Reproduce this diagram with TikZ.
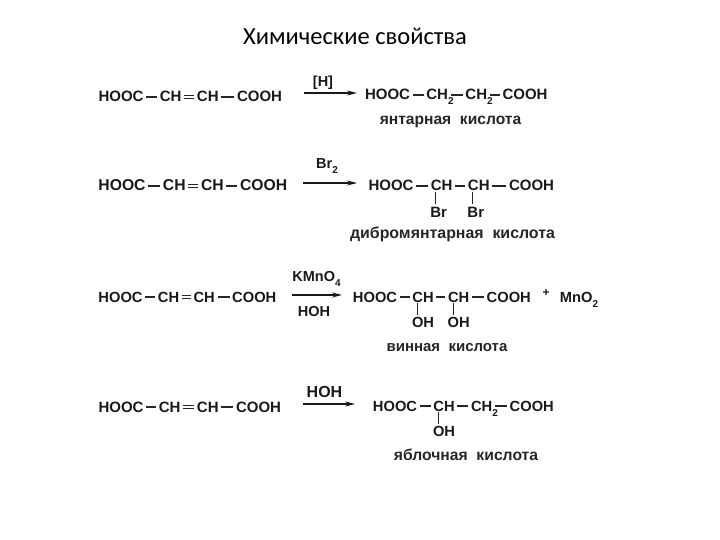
\documentclass[tikz,border=0pt]{standalone}
\usepackage{fontspec}
\setmainfont{Liberation Sans}
\newfontfamily\titlefont{Carlito}
\usetikzlibrary{positioning,arrows.meta}
\newcommand{\lowidx}[1]{\raisebox{-5pt}{\fontsize{10}{10}\selectfont #1}}
\newcommand{\hangidx}[1]{\rlap{\lowidx{#1}}}
\begin{document}
\begin{tikzpicture}[x=1pt, y=-1pt,
    chem/.style = {font=\fontsize{#1}{#1}\selectfont\bfseries, text=black!90, inner xsep=2.5pt, inner ysep=1pt, text height=10pt, text depth=0pt},
    chem/.default = 15,
    acid/.style = {font=\fontsize{#1}{16}\selectfont\bfseries, text=black!85, inner sep=0pt},
    acid/.default = 15.6,
    reagent/.style = {font=\fontsize{14.5}{15}\selectfont\bfseries, text=black!90, inner sep=0pt},
    bond/.style = {line width=1.2pt, black!85},
    dbond/.style = {bond, double, double distance=2.4pt, line width=.9pt},
    stem/.style = {bond, line width=1pt},
    rxn/.style = {line width=1.1pt, black!90, -{Stealth[length=10pt, width=5pt]}}]
    \useasboundingbox (0,0) rectangle (720,540);

    \node[font=\titlefont\fontsize{24.5}{28}\selectfont, inner sep=0pt] (title) at (355,36) {Химические свойства};

    % first row
    \node[chem] (hooc1) at (121,97) {HOOC};
    \node[chem] (cha1) [right=11pt of hooc1] {CH};
    \node[chem] (chb1) [right=10pt of cha1] {CH};
    \node[chem] (cooh1) [right=13pt of chb1] {COOH};
    \draw[bond] (hooc1) -- (cha1);
    \draw[dbond] (cha1) -- (chb1);
    \draw[bond] (chb1) -- (cooh1);
    \coordinate (in1) at (304,93);
    \coordinate (out1) at (357,93);
    \draw[rxn] (in1) -- (out1);
    \node[reagent] (top1) at (323,83) {[H]};
    \node[chem] (phooc1) at (387.5,95) {HOOC};
    \node[chem] (pcha1) [right=11pt of phooc1] {CH\hangidx{2}};
    \node[chem] (pchb1) [right=12pt of pcha1] {CH\hangidx{2}};
    \node[chem] (pcooh1) [right=10pt of pchb1] {COOH};
    \draw[bond] (phooc1) -- (pcha1);
    \draw[bond] (pcha1) -- (pchb1);
    \draw[bond] (pchb1) -- (pcooh1);
    \node[acid] (name1) at (450.5,122) {янтарная\ \ кислота};

    % second row
    \node[chem=15.7] (hooc2) at (122,186) {HOOC};
    \node[chem=15.7] (cha2) [right=12pt of hooc2] {CH};
    \node[chem=15.7] (chb2) [right=10pt of cha2] {CH};
    \node[chem=15.7] (cooh2) [right=11pt of chb2] {COOH};
    \draw[bond] (hooc2) -- (cha2);
    \draw[dbond] (cha2) -- (chb2);
    \draw[bond] (chb2) -- (cooh2);
    \coordinate (in2) at (303,183);
    \coordinate (out2) at (357,183);
    \draw[rxn] (in2) -- (out2);
    \node[reagent] (top2) at (327,166) {Br\lowidx{2}};
    \node[chem] (phooc2) at (391,186) {HOOC};
    \node[chem] (pcha2) [right=12pt of phooc2] {CH};
    \node[chem] (pchb2) [right=10pt of pcha2] {CH};
    \node[chem] (pcooh2) [right=14pt of pchb2] {COOH};
    \node[chem] (bra2) [below=14pt of pcha2, xshift=-3pt] {Br};
    \node[chem] (brb2) [below=14pt of pchb2, xshift=-3pt] {Br};
    \draw[bond] (phooc2) -- (pcha2);
    \draw[bond] (pcha2) -- (pchb2);
    \draw[bond] (pchb2) -- (pcooh2);
    \draw[stem, shorten >=2pt] ([xshift=-6pt]pcha2.south) -- ([xshift=-3pt]bra2.north);
    \draw[stem, shorten >=2pt] ([xshift=-6pt]pchb2.south) -- ([xshift=-3pt]brb2.north);
    \node[acid=15.9] (name2) at (452.5,234) {дибромянтарная\ \ кислота};

    % third row
    \node[chem=14.7] (hooc3) at (120.5,297) {HOOC};
    \node[chem=14.7] (cha3) [right=10pt of hooc3] {CH};
    \node[chem=14.7] (chb3) [right=9pt of cha3] {CH};
    \node[chem=14.7] (cooh3) [right=12pt of chb3] {COOH};
    \draw[bond] (hooc3) -- (cha3);
    \draw[dbond] (cha3) -- (chb3);
    \draw[bond] (chb3) -- (cooh3);
    \coordinate (in3) at (292,295);
    \coordinate (out3) at (342,295);
    \draw[rxn] (in3) -- (out3);
    \node[reagent] (top3) at (316.5,279) {KMnO\lowidx{4}};
    \node[reagent] (bot3) at (314,312) {HOH};
    \node[chem=14.7] (phooc3) at (375,297) {HOOC};
    \node[chem=14.7] (pcha3) [right=10pt of phooc3] {CH};
    \node[chem=14.7] (pchb3) [right=9pt of pcha3] {CH};
    \node[chem=14.7] (pcooh3) [right=12pt of pchb3] {COOH};
    \node[chem=14.7] (oha3) [below=13pt of pcha3] {OH};
    \node[chem=14.7] (ohb3) [below=13pt of pchb3] {OH};
    \draw[bond] (phooc3) -- (pcha3);
    \draw[bond] (pcha3) -- (pchb3);
    \draw[bond] (pchb3) -- (pcooh3);
    \draw[stem, shorten >=1pt] ([xshift=-5.5pt]pcha3.south) -- ([xshift=-5.5pt]oha3.north);
    \draw[stem, shorten >=1pt] ([xshift=-5.5pt]pchb3.south) -- ([xshift=-5.5pt]ohb3.north);
    \node[reagent, font=\fontsize{12}{12}\selectfont\bfseries] (plus3) at (546,293) {+};
    \node[chem=14.7] (mno3) at (579,297) {MnO\lowidx{2}};
    \node[acid=15] (name3) at (447,348) {винная\ \ кислота};

    % fourth row
    \node[chem] (hooc4) at (121,407) {HOOC};
    \node[chem] (cha4) [right=10pt of hooc4] {CH};
    \node[chem] (chb4) [right=11pt of cha4] {CH};
    \node[chem] (cooh4) [right=12pt of chb4] {COOH};
    \draw[bond] (hooc4) -- (cha4);
    \draw[dbond] (cha4) -- (chb4);
    \draw[bond] (chb4) -- (cooh4);
    \coordinate (in4) at (303,404);
    \coordinate (out4) at (355,404);
    \draw[rxn] (in4) -- (out4);
    \node[reagent, font=\fontsize{16}{16}\selectfont\bfseries] (top4) at (324.5,392) {HOH};
    \node[chem=14.7] (phooc4) at (395,406) {HOOC};
    \node[chem=14.7] (pcha4) [right=11pt of phooc4] {CH};
    \node[chem=14.7] (pchb4) [right=11pt of pcha4] {CH\hangidx{2}};
    \node[chem=14.7] (pcooh4) [right=12pt of pchb4] {COOH};
    \node[chem=14.7] (oha4) [below=13pt of pcha4] {OH};
    \draw[bond] (phooc4) -- (pcha4);
    \draw[bond] (pcha4) -- (pchb4);
    \draw[bond] (pchb4) -- (pcooh4);
    \draw[stem, shorten >=1pt] ([xshift=-5.5pt]pcha4.south) -- ([xshift=-5.5pt]oha4.north);
    \node[acid=15.7] (name4) at (466,455) {яблочная\ \ кислота};
\end{tikzpicture}
\end{document}
